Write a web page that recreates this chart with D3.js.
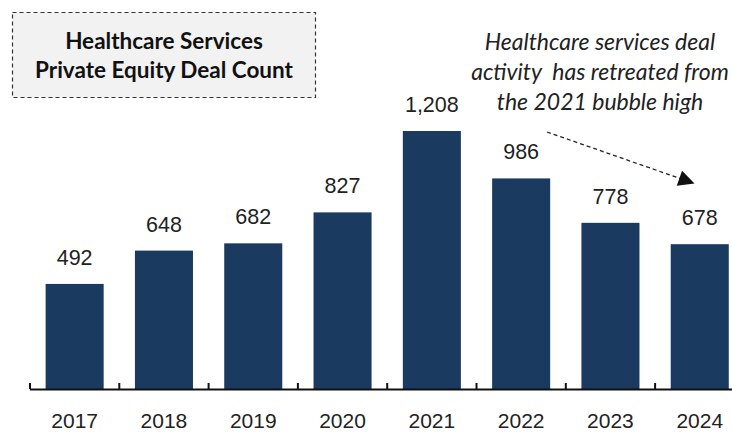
<!DOCTYPE html>
<html>
<head>
<meta charset="utf-8">
<script src="https://cdn.jsdelivr.net/npm/d3@7"></script>
<style>
  html, body { margin: 0; padding: 0; background: #fff; }
  svg { display: block; }
</style>
</head>
<body>
<svg id="chart" width="732" height="433"></svg>
<script>
// Healthcare services PE deal count by year
const years = ["2017", "2018", "2019", "2020", "2021", "2022", "2023", "2024"];
const dealCounts = [492, 648, 682, 827, 1208, 986, 778, 678];
const titleLines = ["Healthcare Services", "Private Equity Deal Count"];
const noteLines = ["Healthcare services deal", "activity  has retreated from", "the 2021 bubble high"];

const W = 732, H = 433;
const baseY = 389;
const svg = d3.select("#chart");

const x = d3.scaleBand()
  .domain(years)
  .range([30, 30 + 89.3 * years.length])
  .paddingInner(0.35)
  .paddingOuter(0.175);

const y = d3.scaleLinear()
  .domain([0, 1208])
  .range([baseY, 131]);

const barColor = "#1b3a5f";
const fmt = d3.format(",");

// bars
svg.append("g").selectAll("rect")
  .data(years)
  .join("rect")
  .attr("x", d => x(d))
  .attr("y", (d, i) => y(dealCounts[i]))
  .attr("width", x.bandwidth())
  .attr("height", (d, i) => baseY - y(dealCounts[i]))
  .attr("fill", barColor);

// value labels
svg.append("g").selectAll("text")
  .data(years)
  .join("text")
  .attr("x", d => x(d) + x.bandwidth() / 2)
  .attr("y", (d, i) => y(dealCounts[i]) - 19)
  .attr("text-anchor", "middle")
  .attr("font-family", "Liberation Sans, Arial, sans-serif")
  .attr("font-size", 21.5)
  .attr("fill", "#222")
  .text((d, i) => fmt(dealCounts[i]));

// x axis: baseline with upward ticks at category boundaries
const boundaries = d3.range(years.length + 1).map(i => 30 + i * x.step());
const axis = svg.append("g");
axis.append("line")
  .attr("x1", 30).attr("x2", W)
  .attr("y1", baseY + 0.5).attr("y2", baseY + 0.5)
  .attr("stroke", "#111").attr("stroke-width", 2);
axis.selectAll("line.tick")
  .data(boundaries)
  .join("line")
  .attr("class", "tick")
  .attr("x1", d => d).attr("x2", d => d)
  .attr("y1", baseY).attr("y2", baseY - 6)
  .attr("stroke", "#111").attr("stroke-width", 2);
axis.selectAll("text")
  .data(years)
  .join("text")
  .attr("x", d => x(d) + x.bandwidth() / 2)
  .attr("y", 428)
  .attr("text-anchor", "middle")
  .attr("font-family", "Liberation Sans, Arial, sans-serif")
  .attr("font-size", 21)
  .attr("fill", "#222")
  .text(d => d);

// title box
const tb = svg.append("g");
tb.append("rect")
  .attr("x", 12.5).attr("y", 12.5)
  .attr("width", 303).attr("height", 85)
  .attr("fill", "#f2f2f2")
  .attr("stroke", "#333")
  .attr("stroke-width", 1.2)
  .attr("stroke-dasharray", "4,3");
tb.selectAll("text")
  .data(titleLines)
  .join("text")
  .attr("x", 164)
  .attr("y", (d, i) => 49 + i * 29)
  .attr("text-anchor", "middle")
  .attr("font-family", "Lato, 'Open Sans', sans-serif")
  .attr("font-weight", "bold")
  .attr("font-size", 22.5)
  .attr("fill", "#111")
  .text(d => d);

// annotation
const note = svg.append("g");
note.selectAll("text")
  .data(noteLines)
  .join("text")
  .attr("x", 600)
  .attr("y", (d, i) => 50 + i * 30)
  .attr("text-anchor", "middle")
  .attr("font-family", "Lato, 'Open Sans', sans-serif")
  .attr("font-style", "italic")
  .attr("font-size", 23)
  .attr("fill", "#222")
  .style("white-space", "pre")
  .text(d => d);

// dashed arrow
const defs = svg.append("defs");
defs.append("marker")
  .attr("id", "arrowhead")
  .attr("viewBox", "0 0 10 10")
  .attr("refX", 9).attr("refY", 5)
  .attr("markerWidth", 18).attr("markerHeight", 16)
  .attr("markerUnits", "userSpaceOnUse")
  .attr("orient", "auto")
  .append("path")
  .attr("d", "M0,0 L10,5 L0,10 Z")
  .attr("fill", "#111");

note.append("line")
  .attr("x1", 547).attr("y1", 132)
  .attr("x2", 693).attr("y2", 183)
  .attr("stroke", "#222")
  .attr("stroke-width", 1.3)
  .attr("stroke-dasharray", "4,3")
  .attr("marker-end", "url(#arrowhead)");
</script>
</body>
</html>
